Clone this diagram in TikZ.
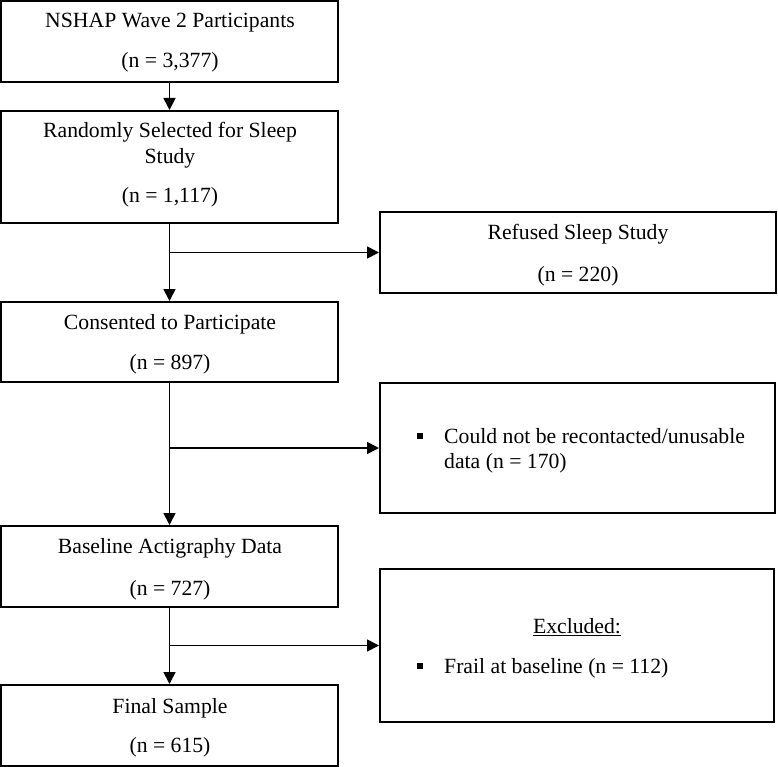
\documentclass[tikz,border=0pt]{standalone}
\usepackage{fontspec}
\setmainfont{Liberation Serif}
\usetikzlibrary{arrows.meta}
\begin{document}
\begin{tikzpicture}[x=1pt,y=-1pt,
  box/.style={draw=black,line width=2pt,rectangle,inner sep=0pt},
  txt/.style={inner sep=0pt,font=\fontsize{21.7}{26}\selectfont},
  arr/.style={line width=1.7pt,-{Triangle[length=12pt,width=12pt]}}]
\useasboundingbox (0,0) rectangle (778,767);
% left column boxes
\node[box,minimum width=337pt,minimum height=81pt] (b1) at (169.5,41.5) {};
\node[box,minimum width=337pt,minimum height=112pt] (b2) at (169.5,167) {};
\node[box,minimum width=337pt,minimum height=80pt] (b3) at (169.5,342) {};
\node[box,minimum width=337pt,minimum height=81pt] (b4) at (169.5,566.5) {};
\node[box,minimum width=337pt,minimum height=81pt] (b5) at (169.5,725.5) {};
% right column boxes
\node[box,minimum width=396pt,minimum height=81pt] (r1) at (578,252.5) {};
\node[box,minimum width=395pt,minimum height=130pt] (r2) at (577.5,448) {};
\node[box,minimum width=394pt,minimum height=153pt] (r3) at (577,645.5) {};
% texts
\node[txt,anchor=base] (t1a) at (170,28) {NSHAP Wave 2 Participants};
\node[txt,anchor=base] (t1b) at (170,68) {(n = 3,377)};
\node[txt,anchor=base] (t2a) at (170,138) {Randomly Selected for Sleep};
\node[txt,anchor=base] (t2b) at (170,164) {Study};
\node[txt,anchor=base] (t2c) at (170,203) {(n = 1,117)};
\node[txt,anchor=base] (t3a) at (170,329) {Consented to Participate};
\node[txt,anchor=base] (t3b) at (170,369) {(n = 897)};
\node[txt,anchor=base] (t4a) at (170,553) {Baseline Actigraphy Data};
\node[txt,anchor=base] (t4b) at (170,595) {(n = 727)};
\node[txt,anchor=base] (t5a) at (170,713) {Final Sample};
\node[txt,anchor=base] (t5b) at (170,752) {(n = 615)};
\node[txt,anchor=base] (r1a) at (578,240) {Refused Sleep Study};
\node[txt,anchor=base] (r1b) at (578,281) {(n = 220)};
\node[txt,anchor=base west] (r2bul) at (416.5,443) {\rule[4pt]{6.5pt}{6.5pt}};
\node[txt,anchor=base west] (r2a) at (444,443) {Could not be recontacted/unusable};
\node[txt,anchor=base west] (r2b) at (444,468) {data (n = 170)};
\node[txt,anchor=base] (r3a) at (577,633) {\underline{Excluded:}};
\node[txt,anchor=base west] (r3bul) at (416.5,673) {\rule[4pt]{6.5pt}{6.5pt}};
\node[txt,anchor=base west] (r3b) at (444,673) {Frail at baseline (n = 112)};
% connectors
\draw[arr] (b1.south) -- (b2.north);
\draw[arr] (b2.south) -- (b3.north);
\draw[arr] (b3.south) -- (b4.north);
\draw[arr] (b4.south) -- (b5.north);
\draw[arr] (b2.south |- r1.west) -- (r1.west);
\draw[arr] (b3.south |- r2.west) -- (r2.west);
\draw[arr] (b4.south |- r3.west) -- (r3.west);
\end{tikzpicture}
\end{document}
